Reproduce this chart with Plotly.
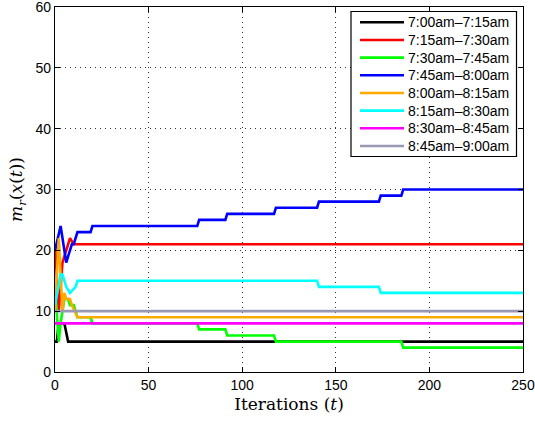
import plotly.graph_objects as go

labels = ["7:00am–7:15am", "7:15am–7:30am", "7:30am–7:45am", "7:45am–8:00am",
          "8:00am–8:15am", "8:15am–8:30am", "8:30am–8:45am", "8:45am–9:00am"]
colors = ["#000000", "#ff0000", "#00ff00", "#0000ff", "#ffaa00", "#00ffff", "#ff00ff", "#9999b3"]

# (iteration, value) knots
black_t = [0, 1, 2, 5, 7, 250]
black_v = [5, 5, 8, 8, 5, 5]
red_t = [0, 1, 2, 4, 6, 8, 10, 250]
red_v = [21, 15, 10, 18, 20, 22, 21, 21]
green_t = [0, 2, 3, 5, 7, 8, 10, 12, 19, 20, 76, 77, 91, 92, 117, 118, 185, 186, 250]
green_v = [14, 5, 8, 12, 12, 11, 11, 9, 9, 8, 8, 7, 7, 6, 6, 5, 5, 4, 4]
blue_t = [0, 3, 6, 9, 10, 12, 19, 20, 76, 77, 91, 92, 117, 118, 140, 141, 173, 174, 185, 186, 250]
blue_v = [20, 24, 18, 21, 21, 23, 23, 24, 24, 25, 25, 26, 26, 27, 27, 28, 28, 29, 29, 30, 30]
orange_t = [0, 2, 4, 5, 6, 8, 9, 12, 250]
orange_v = [10, 22, 10, 13, 12, 12, 11, 9, 9]
cyan_t = [0, 3, 4, 6, 8, 11, 12, 140, 141, 173, 174, 250]
cyan_v = [11, 16, 16, 14, 13, 14, 15, 15, 14, 14, 13, 13]
magenta_t = [0, 250]
magenta_v = [8, 8]
gray_t = [0, 250]
gray_v = [10, 10]

series_t = [black_t, red_t, green_t, blue_t, orange_t, cyan_t, magenta_t, gray_t]
series_v = [black_v, red_v, green_v, blue_v, orange_v, cyan_v, magenta_v, gray_v]

x_ticks = [0, 50, 100, 150, 200, 250]
y_ticks = [0, 10, 20, 30, 40, 50, 60]

W, H = 535, 421
ML, MR, MT, MB = 55, 12, 7, 49
PW, PH = W - ML - MR, H - MT - MB


def px_x(p):
    return (p - ML) / PW


def px_y(p):
    return 1 - (p - MT) / PH


fig = go.Figure()
for lab, col, t, v in zip(labels, colors, series_t, series_v):
    fig.add_trace(go.Scatter(x=t, y=v, mode="lines", name=lab, showlegend=False,
                             line=dict(color=col, width=2.6)))

# custom legend (MATLAB style box)
shapes = [dict(type="rect", xref="paper", yref="paper",
               x0=px_x(351), x1=px_x(516.5), y0=px_y(156.5), y1=px_y(11.5),
               line=dict(color="black", width=1.2), fillcolor="white", layer="above")]
annotations = []
for i, (lab, col) in enumerate(zip(labels, colors)):
    yc = 22.3 + i * 17.67
    shapes.append(dict(type="line", xref="paper", yref="paper",
                       x0=px_x(360), x1=px_x(404), y0=px_y(yc), y1=px_y(yc),
                       line=dict(color=col, width=2.6), layer="above"))
    annotations.append(dict(text=lab, xref="paper", yref="paper",
                            x=px_x(406), y=px_y(yc), xanchor="left", yanchor="middle",
                            showarrow=False,
                            font=dict(family="Liberation Sans, Arial", size=14, color="black")))

axis_common = dict(showline=True, linecolor="black", linewidth=1.2, mirror="ticks",
                   ticks="inside", ticklen=5, tickcolor="black",
                   showgrid=True, gridcolor="#333333", griddash="1px,4px", gridwidth=1,
                   zeroline=False, automargin=False, ticklabeloverflow="allow",
                   tickfont=dict(family="Liberation Sans, Arial", size=14, color="black"))

fig.update_layout(
    width=W, height=H,
    margin=dict(l=ML, r=MR, t=MT, b=MB),
    paper_bgcolor="white", plot_bgcolor="white",
    xaxis=dict(range=[0, 250], tickvals=x_ticks,
               title=dict(text="Iterations (<i>t</i>)", standoff=6,
                          font=dict(family="DejaVu Serif, Liberation Serif", size=17, color="black")),
               **axis_common),
    yaxis=dict(range=[0, 60], tickvals=y_ticks,
               title=dict(text="<i>m</i><sub><i>r</i></sub>(<i>x</i>(<i>t</i>))", standoff=8,
                          font=dict(family="DejaVu Serif, Liberation Serif", size=17, color="black")),
               **axis_common),
    shapes=shapes,
    annotations=annotations,
    showlegend=False,
)

fig.write_html("out.html")
